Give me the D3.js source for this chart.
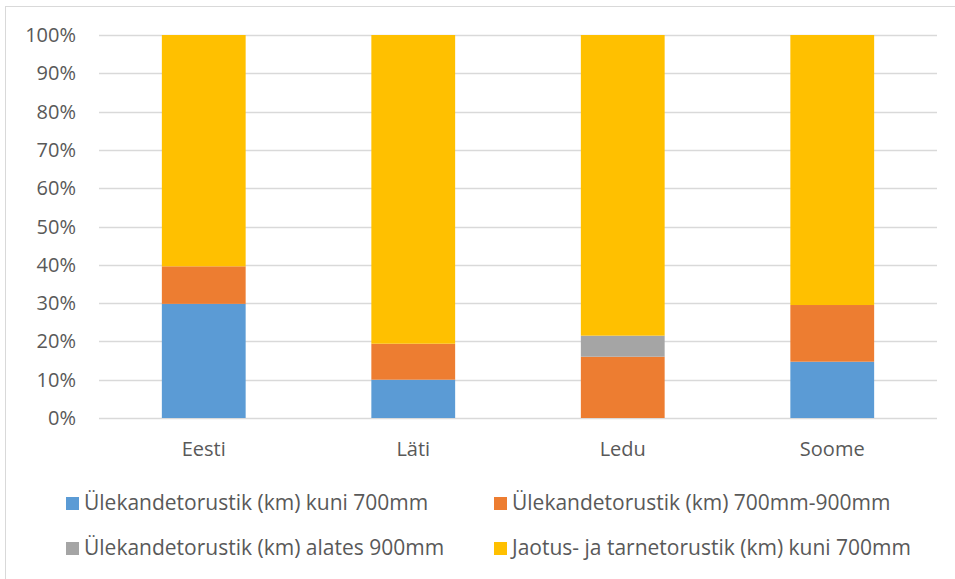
<!DOCTYPE html>
<html><head><meta charset="utf-8">
<script src="https://cdn.jsdelivr.net/npm/d3@7"></script>
<style>body{margin:0;background:#fff}svg{display:block}text{font-family:"Open Sans","Noto Sans",sans-serif;fill:#595959}</style>
</head><body><svg id="c" width="955" height="579"></svg>
<script>
const categories = ["Eesti","Läti","Ledu","Soome"];
const seriesNames = ["Ülekandetorustik (km) kuni 700mm","Ülekandetorustik (km) 700mm-900mm","Ülekandetorustik (km) alates 900mm","Jaotus- ja tarnetorustik (km) kuni 700mm"];
const s1 = [29.8, 10.0, 0.0, 14.7];
const s2 = [9.8, 9.4, 16.0, 14.8];
const s3 = [0.0, 0.0, 5.5, 0.0];
const s4 = [60.4, 80.6, 78.5, 70.5];
const colors = ["#5b9bd5","#ed7d31","#a5a5a5","#ffc000"];
const yTicks = [0,10,20,30,40,50,60,70,80,90,100];

const svg = d3.select("#c");
svg.append("rect").attr("x",5.5).attr("y",6.5).attr("width",1000).attr("height",1000).attr("fill","#fff").attr("stroke","#d9d9d9");
const m = {l:99,r:937,t:35,b:418};
const x = d3.scaleBand().domain(categories).range([m.l,m.r]).paddingInner(0.6).paddingOuter(0.3);
const y = d3.scaleLinear().domain([0,100]).range([m.b,m.t]);
const rows = categories.map((c,i)=>({cat:c, v:[s1[i],s2[i],s3[i],s4[i]]}));
const keys = [0,1,2,3];
const stacked = d3.stack().keys(keys).value((d,k)=>d.v[k])(rows);

svg.append("g").selectAll("line").data(yTicks).join("line")
  .attr("x1",m.l).attr("x2",m.r).attr("y1",d=>Math.round(y(d))+0.5).attr("y2",d=>Math.round(y(d))+0.5)
  .attr("stroke","#d9d9d9").attr("stroke-width",1.3);
svg.append("g").selectAll("text").data(yTicks).join("text")
  .attr("x",76).attr("y",d=>y(d)+7).attr("text-anchor","end").style("font-size","20px").text(d=>d+"%");

svg.append("g").selectAll("g").data(stacked).join("g").attr("fill",(d,i)=>colors[i])
  .selectAll("rect").data(d=>d).join("rect")
  .attr("x",d=>x(d.data.cat)).attr("width",x.bandwidth())
  .attr("y",d=>y(d[1])).attr("height",d=>y(d[0])-y(d[1]));

svg.append("g").selectAll("text").data(categories).join("text")
  .attr("x",d=>x(d)+x.bandwidth()/2).attr("y",456).attr("text-anchor","middle").style("font-size","20px").text(d=>d);

const legPos = [[66,510],[494,510],[66,555],[494,555]];
const lg = svg.append("g").selectAll("g").data(seriesNames).join("g")
  .attr("transform",(d,i)=>`translate(${legPos[i][0]},${legPos[i][1]})`);
lg.append("rect").attr("x",0).attr("y",-13).attr("width",13).attr("height",13).attr("fill",(d,i)=>colors[i]);
lg.append("text").attr("x",18).attr("y",0).style("font-size","21px").text(d=>d);
</script></body></html>
